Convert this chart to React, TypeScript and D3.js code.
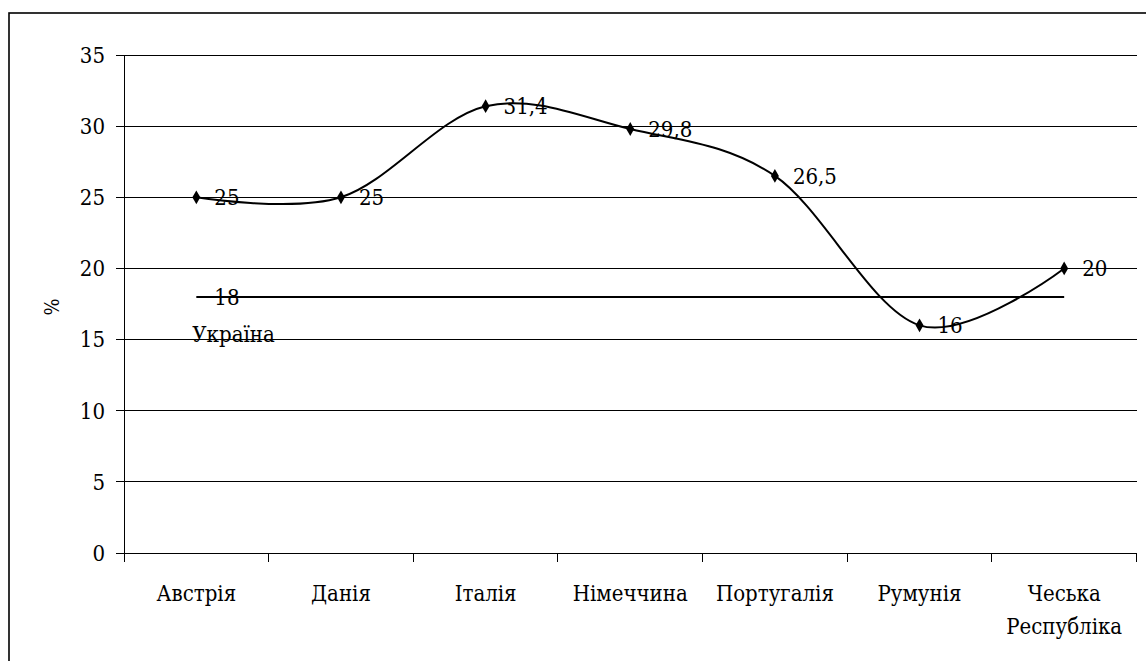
import React from "react";
import * as d3 from "d3";

const categories: string[][] = [
  ["Австрія"],
  ["Данія"],
  ["Італія"],
  ["Німеччина"],
  ["Португалія"],
  ["Румунія"],
  ["Чеська", "Республіка"],
];
const seriesValues: number[] = [25, 25, 31.4, 29.8, 26.5, 16, 20];
const seriesLabels: string[] = ["25", "25", "31,4", "29,8", "26,5", "16", "20"];
const ukraineValue = 18;
const ukraineLabel = "18";
const ukraineName = "Україна";
const yTicks: number[] = [0, 5, 10, 15, 20, 25, 30, 35];
const yTitle = "%";

const W = 1146;
const H = 661;
const left = 124;
const right = 1136.5;
const top = 55;
const bottom = 553;
const FONT = "DejaVu Serif Condensed";

export default function App() {
  const keys = categories.map((c) => c.join(" "));
  const x = d3.scaleBand<string>().domain(keys).range([left, right]).padding(0);
  const y = d3.scaleLinear().domain([0, 35]).range([bottom, top]);
  const cx = (i: number) => (x(keys[i]) as number) + x.bandwidth() / 2;

  const line = d3
    .line<number>()
    .x((_, i) => cx(i))
    .y((d) => y(d))
    .curve(d3.curveCatmullRom.alpha(0));
  const pathD = line(seriesValues) || "";

  const boundaries = keys.map((k) => x(k) as number).concat([right]);

  return (
    <svg
      width={W}
      height={H}
      style={{ position: "absolute", left: 0, top: 0, display: "block", background: "#fff" }}
    >
      <rect x={9} y={13} width={1160} height={700} fill="#fff" stroke="#000" strokeWidth={1.6} />
      {yTicks.map((t) => (
        <g key={t}>
          <line x1={left} x2={right} y1={y(t)} y2={y(t)} stroke="#000" strokeWidth={1} shapeRendering="crispEdges" />
          <line x1={left - 8} x2={left} y1={y(t)} y2={y(t)} stroke="#000" strokeWidth={1} shapeRendering="crispEdges" />
          <text x={105} y={y(t)} dy="0.36em" textAnchor="end" fontSize={22} fill="#000" fontFamily={FONT}>
            {t}
          </text>
        </g>
      ))}
      <line x1={left} x2={left} y1={top} y2={bottom + 9} stroke="#000" strokeWidth={1} shapeRendering="crispEdges" />
      {boundaries.map((b, i) => (
        <line key={i} x1={b} x2={b} y1={bottom} y2={bottom + 9} stroke="#000" strokeWidth={1} shapeRendering="crispEdges" />
      ))}
      {categories.map((c, i) => (
        <text key={i} x={cx(i)} y={601} textAnchor="middle" fontSize={22} fill="#000" fontFamily={FONT}>
          {c.map((s, j) => (
            <tspan key={j} x={cx(i)} dy={j === 0 ? 0 : 33}>
              {s}
            </tspan>
          ))}
        </text>
      ))}
      <text
        transform={`translate(52,${(top + bottom) / 2 + 3}) rotate(-90)`}
        textAnchor="middle"
        dy="0.35em"
        fontSize={20}
        fill="#000"
        fontFamily={FONT}
      >
        {yTitle}
      </text>
      <line x1={cx(0)} x2={cx(categories.length - 1)} y1={y(ukraineValue)} y2={y(ukraineValue)} stroke="#000" strokeWidth={2} />
      <text x={cx(0) + 18} y={y(ukraineValue)} dy="0.36em" fontSize={22} fill="#000" fontFamily={FONT}>
        {ukraineLabel}
      </text>
      <text x={cx(0) - 4} y={y(ukraineValue) + 37} dy="0.36em" fontSize={22} fill="#000" fontFamily={FONT}>
        {ukraineName}
      </text>
      <path d={pathD} fill="none" stroke="#000" strokeWidth={2} />
      {seriesValues.map((v, i) => (
        <g key={i}>
          <path
            d={d3.symbol().type(d3.symbolDiamond).size(55)() || ""}
            transform={`translate(${cx(i)},${y(v)})`}
            fill="#000"
          />
          <text x={cx(i) + 18} y={y(v)} dy="0.36em" fontSize={22} fill="#000" fontFamily={FONT}>
            {seriesLabels[i]}
          </text>
        </g>
      ))}
    </svg>
  );
}
